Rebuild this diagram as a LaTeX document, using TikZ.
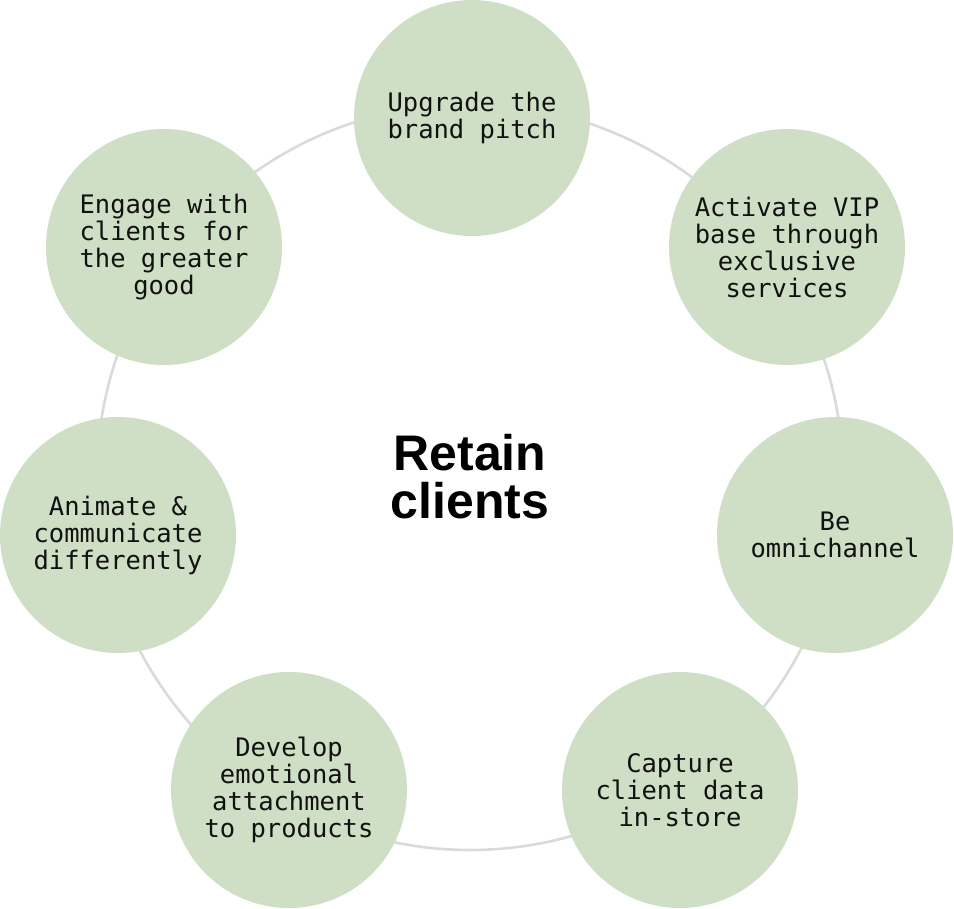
\documentclass[tikz,border=0pt]{standalone}
\usepackage{fontspec}
\setmonofont{DejaVu Sans Mono}
\setsansfont{Liberation Sans}
\usetikzlibrary{positioning}
\definecolor{sage}{HTML}{CEDFC5}
\definecolor{ringgray}{HTML}{DADADA}
\definecolor{inkblack}{HTML}{111111}
\tikzset{
  goal/.style={circle, fill=sage, minimum size=236pt, inner sep=0pt,
               align=center, text=inkblack,
               font=\ttfamily\fontsize{25.5}{27}\selectfont},
  hub/.style={align=center, text=black,
              font=\sffamily\bfseries\fontsize{50}{48}\selectfont},
  ring/.style={draw=ringgray, line width=2.6pt},
}
\begin{document}
\begin{tikzpicture}[x=1pt, y=-1pt]
  \useasboundingbox (0,0) rectangle (954,909);
  \coordinate (ctr) at (470,477);
  \draw[ring] (ctr) circle (373pt);
  \foreach \name/\px/\py/\txt in {
      pitch/472/118/{Upgrade the\\brand pitch},
      vip/787/247/{Activate VIP\\base through\\exclusive\\services},
      omni/835/535/{Be\\omnichannel},
      capture/680/790/{Capture\\client data\\in-store},
      develop/289/790/{Develop\\emotional\\attachment\\to products},
      animate/118/535/{Animate \&\\communicate\\differently},
      engage/164/247/{Engage with\\clients for\\the greater\\good}} {
    \node[goal] (\name) at (\px,\py) {\txt};
  }
  \node[hub] (retain) at (ctr) {Retain\\clients};
\end{tikzpicture}
\end{document}
